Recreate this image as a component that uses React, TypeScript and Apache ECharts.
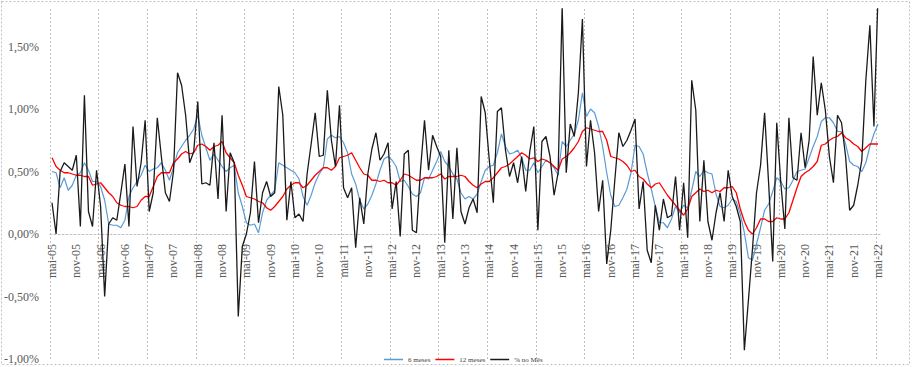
import React, { useEffect, useRef } from "react";
import * as echarts from "echarts";

const MONTHS = ["jan", "fev", "mar", "abr", "mai", "jun", "jul", "ago", "set", "out", "nov", "dez"];
const START_YEAR = 2005;
const START_MONTH = 4; // mai

const SERIES_NAMES = ["6 meses", "12 meses", "% no Mês"];

// % no Mês (monthly), from mai-05 to mai-22
const monthly = [
  0.25, 0.00, 0.50, 0.57, 0.54, 0.51, 0.63, 0.06, 1.11, 0.18, 0.06, 0.51,
  0.22, -0.50, 0.08, 0.13, 0.11, 0.33, 0.56, 0.06, 0.86, 0.38, 0.57, 0.91,
  0.18, 0.33, 0.93, 0.62, 0.33, 0.26, 0.50, 1.29, 1.19, 0.95, 0.57, 0.66,
  1.06, 0.40, 0.41, 0.39, 0.73, 0.28, 0.95, 0.18, 0.65, 0.57, -0.66, -0.10,
  0.00, 0.17, 0.58, 0.09, 0.33, 0.42, 0.30, 0.33, 1.18, 0.95, 0.11, 0.42,
  0.13, 0.16, 0.10, 0.48, 0.72, 0.97, 0.62, 0.63, 1.15, 0.75, 0.54, 1.03,
  0.37, 0.29, 0.37, -0.11, 0.29, 0.08, 0.48, 0.68, 0.81, 0.59, 0.64, 0.73,
  0.20, 0.42, -0.02, 0.64, 0.67, 0.03, 0.01, 0.51, 0.91, 0.51, 0.79, 0.70,
  0.62, -0.07, 0.67, 0.12, 0.69, 0.18, 0.08, 0.21, 0.28, 0.17, 1.10, 0.97,
  0.59, 0.25, 0.98, 1.01, 0.67, 0.46, 0.57, 0.41, 0.62, 0.34, 0.66, 0.86,
  0.03, 0.74, 0.78, 0.62, 0.31, 0.49, 1.82, 0.49, 0.88, 0.78, 1.13, 1.72,
  0.54, 0.91, 0.65, 0.18, 0.43, -0.24, 0.03, 0.43, 0.81, 0.70, 0.75, 0.83,
  0.92, 0.20, 0.42, -0.13, -0.23, 0.23, 0.03, 0.28, 0.13, 0.15, 0.46, 0.03,
  0.41, -0.03, 1.23, 0.99, 0.10, 0.59, 0.10, -0.05, 0.17, 0.33, 0.10, 0.51,
  0.30, 0.22, 0.10, -0.93, -0.53, -0.12, 0.33, 0.55, 0.97, 0.40, -0.22, 0.89,
  0.41, 0.04, 0.93, 0.45, 0.43, 0.81, 0.53, 0.75, 1.42, 0.95, 1.21, 0.99,
  0.62, 0.41, 0.95, 0.89, 0.62, 0.19, 0.23, 0.39, 0.59, 1.23, 1.67, 0.86,
  1.90,
];

// 6 meses
const sixMonths = [
  0.50, 0.49, 0.37, 0.45, 0.35, 0.39, 0.47, 0.49, 0.57, 0.51, 0.42, 0.42,
  0.38, 0.27, 0.08, 0.07, 0.07, 0.05, 0.11, 0.30, 0.37, 0.42, 0.47, 0.55,
  0.50, 0.52, 0.53, 0.57, 0.51, 0.43, 0.53, 0.65, 0.70, 0.75, 0.79, 0.84,
  0.95, 0.79, 0.69, 0.59, 0.64, 0.59, 0.54, 0.50, 0.53, 0.55, 0.33, 0.22,
  0.09, 0.07, 0.08, 0.01, 0.17, 0.27, 0.31, 0.35, 0.57, 0.55, 0.53, 0.51,
  0.49, 0.44, 0.30, 0.23, 0.31, 0.41, 0.48, 0.53, 0.76, 0.79, 0.77, 0.78,
  0.73, 0.65, 0.48, 0.40, 0.27, 0.20, 0.24, 0.31, 0.40, 0.51, 0.60, 0.62,
  0.59, 0.54, 0.42, 0.43, 0.38, 0.32, 0.30, 0.33, 0.45, 0.44, 0.51, 0.58,
  0.66, 0.58, 0.54, 0.48, 0.44, 0.33, 0.28, 0.30, 0.28, 0.32, 0.42, 0.51,
  0.54, 0.55, 0.65, 0.80, 0.70, 0.64, 0.65, 0.67, 0.61, 0.51, 0.51, 0.57,
  0.49, 0.54, 0.59, 0.57, 0.53, 0.47, 0.74, 0.70, 0.75, 0.80, 0.91, 1.13,
  0.94, 1.00, 0.97, 0.86, 0.70, 0.49, 0.31, 0.22, 0.23, 0.29, 0.36, 0.49,
  0.71, 0.70, 0.64, 0.49, 0.36, 0.22, 0.09, 0.09, 0.05, 0.12, 0.22, 0.17,
  0.23, 0.21, 0.35, 0.50, 0.46, 0.51, 0.49, 0.48, 0.32, 0.22, 0.21, 0.23,
  0.28, 0.26, 0.16, 0.01, -0.19, -0.21, -0.08, 0.05, 0.19, 0.24, 0.34, 0.45,
  0.42, 0.36, 0.37, 0.43, 0.50, 0.51, 0.52, 0.61, 0.70, 0.78, 0.90, 0.93,
  0.93, 0.89, 0.82, 0.82, 0.72, 0.58, 0.55, 0.54, 0.50, 0.57, 0.70, 0.80,
  0.88,
];

// 12 meses
const twelveMonths = [
  0.61, 0.54, 0.51, 0.49, 0.49, 0.48, 0.47, 0.47, 0.46, 0.46, 0.39, 0.40,
  0.41, 0.37, 0.33, 0.30, 0.25, 0.23, 0.22, 0.22, 0.21, 0.22, 0.27, 0.30,
  0.30, 0.38, 0.46, 0.49, 0.49, 0.49, 0.57, 0.60, 0.64, 0.66, 0.64, 0.65,
  0.71, 0.72, 0.70, 0.67, 0.70, 0.71, 0.74, 0.65, 0.61, 0.57, 0.47, 0.39,
  0.30, 0.29, 0.28, 0.26, 0.25, 0.21, 0.19, 0.22, 0.26, 0.30, 0.36, 0.39,
  0.41, 0.41, 0.37, 0.39, 0.43, 0.47, 0.50, 0.53, 0.53, 0.51, 0.54, 0.61,
  0.62, 0.63, 0.65, 0.59, 0.53, 0.48, 0.47, 0.43, 0.43, 0.42, 0.43, 0.41,
  0.41, 0.39, 0.43, 0.48, 0.47, 0.45, 0.43, 0.43, 0.45, 0.45, 0.45, 0.46,
  0.48, 0.44, 0.46, 0.46, 0.46, 0.47, 0.46, 0.42, 0.39, 0.37, 0.40, 0.42,
  0.42, 0.45, 0.49, 0.53, 0.54, 0.56, 0.59, 0.62, 0.65, 0.63, 0.60, 0.61,
  0.58, 0.60, 0.59, 0.57, 0.54, 0.51, 0.60, 0.62, 0.65, 0.69, 0.74, 0.82,
  0.85, 0.84, 0.83, 0.82, 0.82, 0.75, 0.62, 0.61, 0.60, 0.58, 0.55, 0.50,
  0.51, 0.46, 0.44, 0.40, 0.37, 0.40, 0.41, 0.36, 0.31, 0.27, 0.23, 0.19,
  0.15, 0.20, 0.30, 0.33, 0.36, 0.34, 0.35, 0.33, 0.35, 0.34, 0.37, 0.37,
  0.38, 0.33, 0.20, 0.10, 0.03, 0.00, 0.05, 0.12, 0.12, 0.10, 0.10, 0.13,
  0.12, 0.12, 0.17, 0.27, 0.37, 0.46, 0.49, 0.51, 0.54, 0.58, 0.71, 0.72,
  0.75, 0.77, 0.78, 0.81, 0.77, 0.75, 0.72, 0.70, 0.66, 0.69, 0.72, 0.72,
  0.72,
];

const Y_MIN = -1;
const Y_MAX = 1.8;
const Y_STEP = 0.5;

const categories: string[] = monthly.map((_, i) => {
  const m = (START_MONTH + i) % 12;
  const y = START_YEAR + Math.floor((START_MONTH + i) / 12);
  return `${MONTHS[m]}-${String(y % 100).padStart(2, "0")}`;
});

const FONT = "'Liberation Serif', 'Times New Roman', serif";

const GRID_TOP = 9;
const GRID_BOTTOM = 8;
const CHART_H = 367;

export default function App() {
  const ref = useRef<HTMLDivElement>(null);
  useEffect(() => {
    if (!ref.current) return;
    const chart = echarts.init(ref.current, undefined, { renderer: "svg" });
    const fmt = (v: number) => v.toFixed(2).replace(".", ",") + "%";
    const plotH = CHART_H - GRID_TOP - GRID_BOTTOM;
    // distance from the bottom edge of the grid up to the zero line
    const zeroOffset = (plotH * (0 - Y_MIN)) / (Y_MAX - Y_MIN);
    chart.setOption({
      animation: false,
      backgroundColor: "#ffffff",
      grid: {
        left: 50,
        right: 32,
        top: GRID_TOP,
        bottom: GRID_BOTTOM,
        containLabel: false,
        outerBoundsMode: "none",
      },
      legend: {
        left: 379,
        top: 351,
        icon: "rect",
        itemWidth: 19,
        itemHeight: 1.5,
        itemGap: 5,
        textStyle: { fontSize: 7, fontFamily: FONT, color: "#404040" },
        data: SERIES_NAMES,
      },
      graphic: [
        {
          type: "rect",
          shape: { x: 1.5, y: 1.5, width: 908, height: 363 },
          style: { fill: "none", stroke: "#c0c0c0", lineWidth: 1, lineDash: [2, 2] },
          silent: true,
        },
      ],
      xAxis: {
        type: "category",
        data: categories,
        boundaryGap: true,
        offset: -zeroOffset,
        axisLine: { show: true, onZero: false, lineStyle: { color: "#c0c0c0", type: [2, 2], width: 1 } },
        axisTick: { show: false },
        axisLabel: {
          interval: 5,
          rotate: 90,
          margin: 10,
          fontSize: 12,
          fontFamily: FONT,
          color: "#595959",
        },
        splitLine: {
          show: true,
          interval: 11,
          showMaxLine: false,
          lineStyle: { color: "#c0c0c0", type: [2, 2], width: 1 },
        },
      },
      yAxis: {
        type: "value",
        min: Y_MIN,
        max: Y_MAX,
        interval: Y_STEP,
        axisLine: { show: false },
        axisTick: { show: false },
        splitLine: { show: false },
        axisLabel: {
          formatter: fmt,
          showMaxLabel: false,
          margin: 11,
          fontSize: 12,
          fontFamily: FONT,
          color: "#595959",
        },
      },
      series: [
        {
          name: SERIES_NAMES[0],
          type: "line",
          data: sixMonths,
          showSymbol: false,
          symbol: "none",
          lineStyle: { color: "#5b9bd5", width: 1.2 },
          itemStyle: { color: "#5b9bd5" },
          clip: true,
        },
        {
          name: SERIES_NAMES[1],
          type: "line",
          data: twelveMonths,
          showSymbol: false,
          symbol: "none",
          lineStyle: { color: "#ff0000", width: 1.3 },
          itemStyle: { color: "#ff0000" },
          clip: true,
        },
        {
          name: SERIES_NAMES[2],
          type: "line",
          data: monthly,
          showSymbol: false,
          symbol: "none",
          lineStyle: { color: "#1a1a1a", width: 1.3 },
          itemStyle: { color: "#1a1a1a" },
          clip: true,
        },
      ],
    });
    return () => chart.dispose();
  }, []);
  return (
    <div
      ref={ref}
      style={{ position: "fixed", left: 0, top: 0, width: 912, height: 367, background: "#fff" }}
    />
  );
}
